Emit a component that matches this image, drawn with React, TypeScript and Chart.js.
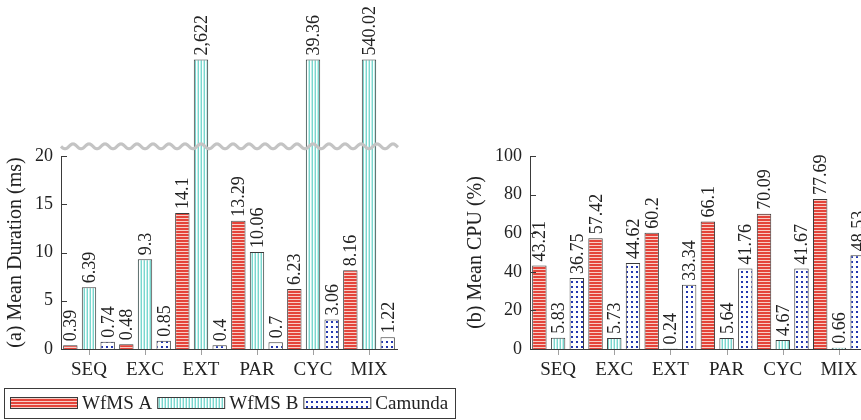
import React, { useEffect, useRef } from 'react';
import { Chart, registerables } from 'chart.js';

Chart.register(...registerables);

const categories = ['SEQ', 'EXC', 'EXT', 'PAR', 'CYC', 'MIX'];
const seriesNames = ['WfMS A', 'WfMS B', 'Camunda'];

const durationA = [0.39, 0.48, 14.1, 13.29, 6.23, 8.16];
const durationB = [6.39, 9.3, 2622, 10.06, 39.36, 540.02];
const durationC = [0.74, 0.85, 0.4, 0.7, 3.06, 1.22];

const cpuA = [43.21, 57.42, 60.2, 66.1, 70.09, 77.69];
const cpuB = [5.83, 5.73, 0.24, 5.64, 4.67, 0.66];
const cpuC = [36.75, 44.62, 33.34, 41.76, 41.67, 48.53];

const durationAxisMax = 20;
const durationStep = 5;
const durationBreakAt = 21;
const durationBreakShown = 30;
const cpuAxisMax = 100;
const cpuStep = 20;

const SERIF = '"Liberation Serif", "DejaVu Serif", serif';
const TEXT = '#222222';
const AXIS = '#3a3a3a';

function makePattern(kind: string): CanvasPattern | string {
  const c = document.createElement('canvas');
  const ctx = c.getContext('2d');
  if (!ctx) return '#ccc';
  if (kind === 'h') {
    c.width = 4; c.height = 3;
    ctx.fillStyle = '#e4443a'; ctx.fillRect(0, 0, 4, 3);
    ctx.fillStyle = '#f8cdc6'; ctx.fillRect(0, 2, 4, 1);
  } else if (kind === 'v') {
    c.width = 3; c.height = 4;
    ctx.fillStyle = '#ffffff'; ctx.fillRect(0, 0, 3, 4);
    ctx.fillStyle = '#7ad6ce'; ctx.fillRect(0, 0, 1, 4);
    ctx.fillStyle = '#c3efea'; ctx.fillRect(2, 0, 1, 4);
  } else {
    c.width = 5; c.height = 5;
    ctx.fillStyle = '#ffffff'; ctx.fillRect(0, 0, 5, 5);
    ctx.fillStyle = '#2438b0'; ctx.fillRect(1, 1, 2, 2);
  }
  return ctx.createPattern(c, 'repeat') || '#ccc';
}

function formatValue(v: number): string {
  return v >= 1000 ? v.toLocaleString('en-US') : String(v);
}

function valueLabelPlugin(raw: number[][]) {
  return {
    id: 'valueLabels',
    afterDatasetsDraw(chart: any) {
      const ctx = chart.ctx;
      ctx.save();
      ctx.font = `18px ${SERIF}`;
      ctx.fillStyle = TEXT;
      ctx.textAlign = 'left';
      ctx.textBaseline = 'alphabetic';
      chart.data.datasets.forEach((_ds: any, i: number) => {
        const meta = chart.getDatasetMeta(i);
        meta.data.forEach((el: any, j: number) => {
          ctx.save();
          ctx.translate(el.x + 6, el.y - 4);
          ctx.rotate(-Math.PI / 2);
          ctx.fillText(formatValue(raw[i][j]), 0, 0);
          ctx.restore();
        });
      });
      ctx.restore();
    },
  };
}

const tickMarkPlugin = {
  id: 'tickMarks',
  afterDraw(chart: any) {
    const ctx = chart.ctx;
    const y = chart.scales.y;
    const x = chart.scales.x;
    ctx.save();
    ctx.lineWidth = 1;
    ctx.strokeStyle = AXIS;
    y.ticks.forEach((t: any) => {
      const py = Math.round(y.getPixelForValue(t.value)) + 0.5;
      ctx.beginPath();
      ctx.moveTo(x.left, py);
      ctx.lineTo(x.left + 6, py);
      ctx.stroke();
    });
    ctx.strokeStyle = '#a0a0a0';
    categories.forEach((_c, i) => {
      const px = Math.round(x.getPixelForValue(i)) + 0.5;
      ctx.beginPath();
      ctx.moveTo(px, y.bottom + 1);
      ctx.lineTo(px, y.bottom + 6);
      ctx.stroke();
    });
    ctx.restore();
  },
};

const wavePlugin = {
  id: 'breakWave',
  afterDatasetsDraw(chart: any) {
    const ctx = chart.ctx;
    const y = chart.scales.y;
    const x = chart.scales.x;
    const cy = y.getPixelForValue(durationBreakAt);
    ctx.save();
    ctx.strokeStyle = '#c4c4c4';
    ctx.lineWidth = 3.2;
    ctx.beginPath();
    const x0 = x.left;
    const x1 = x.right + 1;
    for (let px = x0; px <= x1; px += 0.5) {
      const py = cy + 2.4 * Math.sin(((px - x0) / 16) * Math.PI * 2);
      if (px === x0) ctx.moveTo(px, py); else ctx.lineTo(px, py);
    }
    ctx.stroke();
    ctx.restore();
  },
};

function legendPlugin(patterns: any[]) {
  return {
    id: 'legendBox',
    afterDraw(chart: any) {
      const ctx = chart.ctx;
      ctx.save();
      ctx.strokeStyle = AXIS;
      ctx.lineWidth = 1;
      ctx.strokeRect(4.5, 388.5, 451, 30);
      ctx.font = `19px ${SERIF}`;
      ctx.textBaseline = 'alphabetic';
      ctx.textAlign = 'left';
      let x = 10;
      seriesNames.forEach((name, i) => {
        ctx.fillStyle = patterns[i];
        ctx.fillRect(x, 397, 67, 11);
        ctx.strokeStyle = AXIS;
        ctx.strokeRect(x + 0.5, 397.5, 67, 11);
        x += 72;
        ctx.fillStyle = TEXT;
        ctx.fillText(name, x, 409);
        x += ctx.measureText(name).width + 5;
      });
      ctx.restore();
    },
  };
}

function baseOptions(yMax: number, step: number, title: string, yWidth: number, titlePad: number, rightPad: number) {
  return {
    responsive: false,
    animation: false,
    devicePixelRatio: 1,
    layout: { padding: { top: 156, right: rightPad, left: 0, bottom: 0 } },
    plugins: { legend: { display: false }, tooltip: { enabled: false } },
    scales: {
      x: {
        type: 'category',
        offset: true,
        grid: { display: false, drawTicks: false },
        border: { display: true, color: AXIS, width: 1 },
        ticks: { color: TEXT, font: { family: SERIF, size: 19 }, padding: 10, maxRotation: 0, autoSkip: false },
        afterFit: (s: any) => { s.height = 71; },
      },
      y: {
        type: 'linear',
        min: 0,
        max: yMax,
        grid: { display: false, drawTicks: false },
        border: { display: true, color: AXIS, width: 1 },
        ticks: { stepSize: step, color: TEXT, font: { family: SERIF, size: 18 }, padding: 8 },
        title: { display: true, text: title, color: TEXT, font: { family: SERIF, size: 20 }, padding: { top: titlePad, bottom: 0 } },
        afterFit: (s: any) => { s.width = yWidth; },
      },
    },
  };
}

export default function App() {
  const leftRef = useRef<HTMLCanvasElement>(null);
  const rightRef = useRef<HTMLCanvasElement>(null);

  useEffect(() => {
    document.body.style.margin = '0';
    const patterns = [makePattern('h'), makePattern('v'), makePattern('d')];
    const durRaw = [durationA, durationB, durationC];
    const cpuRaw = [cpuA, cpuB, cpuC];

    const mkDatasets = (raw: number[][], cap: number | null) =>
      raw.map((arr, i) => ({
        label: seriesNames[i],
        data: arr.map((v) => (cap !== null && v > cap ? durationBreakShown : v)),
        backgroundColor: patterns[i],
        borderColor: AXIS,
        borderWidth: 1,
        borderSkipped: 'bottom',
        categoryPercentage: 1.0,
        barPercentage: 0.77,
        clip: false,
      }));

    const left = new Chart(leftRef.current as HTMLCanvasElement, {
      type: 'bar',
      data: { labels: categories, datasets: mkDatasets(durRaw, durationAxisMax) as any },
      options: baseOptions(durationAxisMax, durationStep, '(a) Mean Duration (ms)', 61, 4, 861 - 397) as any,
      plugins: [wavePlugin, valueLabelPlugin(durRaw), tickMarkPlugin, legendPlugin(patterns)],
    });

    const right = new Chart(rightRef.current as HTMLCanvasElement, {
      type: 'bar',
      data: { labels: categories, datasets: mkDatasets(cpuRaw, null) as any },
      options: baseOptions(cpuAxisMax, cpuStep, '(b) Mean CPU (%)', 90, 24, 13) as any,
      plugins: [valueLabelPlugin(cpuRaw), tickMarkPlugin],
    });

    return () => {
      left.destroy();
      right.destroy();
    };
  }, []);

  return (
    <div style={{ position: 'relative', width: 861, height: 420, overflow: 'hidden', background: '#fff' }}>
      <canvas ref={leftRef} width={861} height={420} style={{ position: 'absolute', left: 0, top: 0 }} />
      <canvas ref={rightRef} width={440} height={420} style={{ position: 'absolute', left: 440, top: 0 }} />
    </div>
  );
}
